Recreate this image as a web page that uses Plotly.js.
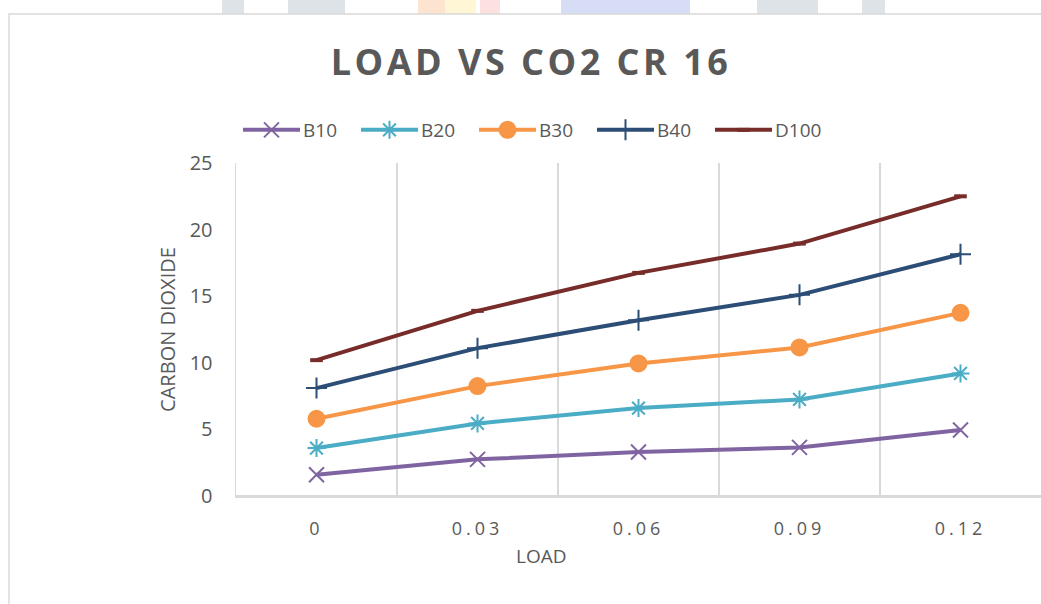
<!DOCTYPE html>
<html>
<head>
<meta charset="utf-8">
<script src="https://cdn.plot.ly/plotly-3.0.1.min.js"></script>
<style>
  html, body { margin: 0; padding: 0; background: #ffffff; }
  #chart { width: 1041px; height: 604px; }
  .gtitle { letter-spacing: 3.5px; }
  .xtick text { letter-spacing: 4px; }
</style>
</head>
<body>
<div id="chart"></div>
<script>
// ---- data ----
const loads = ["0", "0.03", "0.06", "0.09", "0.12"];
const seriesNames = ["B10", "B20", "B30", "B40", "D100"];
const b10 = [1.6, 2.75, 3.3, 3.65, 4.95];
const b20 = [3.6, 5.45, 6.6, 7.25, 9.2];
const b30 = [5.8, 8.25, 9.95, 11.15, 13.75];
const b40 = [8.1, 11.1, 13.2, 15.1, 18.15];
const d100 = [10.2, 13.9, 16.75, 18.95, 22.5];
const yTicks = [0, 5, 10, 15, 20, 25];

// ---- styling ----
const colors = ["#8064A2", "#4BACC6", "#F79646", "#2C4D75", "#772C2A"];
const symbols = ["x-thin-open", "asterisk-open", "circle", "cross-thin-open", "line-ew-open"];
const msizes = [15, 15, 16, 15, 9];
const values = [b10, b20, b30, b40, d100];
const FONT = "'Open Sans', 'Noto Sans', 'DejaVu Sans', sans-serif";
const TXT = "#595959";

const traces = values.map((v, i) => ({
  type: "scatter",
  mode: "lines+markers",
  name: seriesNames[i],
  x: loads,
  y: v,
  line: { color: colors[i], width: 4 },
  marker: {
    symbol: symbols[i],
    size: msizes[i],
    color: colors[i],
    line: { color: colors[i], width: i === 4 ? 4 : 2 }
  },
  cliponaxis: false
}));

// pixel -> paper helpers (plot area: x 236..1041, y 163..496)
const L = 236, R = 1041, T = 163, B = 496;
const px = x => (x - L) / (R - L);
const py = y => (B - y) / (B - T);

// decorative faint watermark at the very top and chart frame
const wm = [
  { x0: 222, x1: 244, c: "#dde3e6" },
  { x0: 288, x1: 345, c: "#dde3e6" },
  { x0: 418, x1: 470, c: "#fde4d0" },
  { x0: 445, x1: 476, c: "#fef6d4" },
  { x0: 480, x1: 500, c: "#fde0e0" },
  { x0: 561, x1: 690, c: "#d7ddf5" },
  { x0: 757, x1: 818, c: "#dde3e6" },
  { x0: 862, x1: 885, c: "#dde3e6" }
];
const shapes = wm.map(s => ({
  type: "rect", xref: "paper", yref: "paper", layer: "below",
  x0: px(s.x0), x1: px(s.x1), y0: py(14), y1: py(0),
  fillcolor: s.c, line: { width: 0 }
}));
shapes.push({
  type: "path", xref: "paper", yref: "paper", layer: "below",
  path: `M ${px(9)} ${py(604)} L ${px(9)} ${py(14)} L ${px(1041)} ${py(14)}`,
  line: { color: "#d9d9d9", width: 1.5 }
});
// full-width category axis baseline
shapes.push({
  type: "line", xref: "paper", yref: "paper", layer: "above",
  x0: 0, x1: 1, y0: 0, y1: 0,
  line: { color: "#d9d9d9", width: 2 }
});

const layout = {
  width: 1041,
  height: 604,
  margin: { l: L, r: 1041 - R, t: T, b: 604 - B, pad: 0 },
  paper_bgcolor: "#ffffff",
  plot_bgcolor: "#ffffff",
  font: { family: FONT, color: TXT, size: 17 },
  title: {
    text: "<b>LOAD VS CO2 CR 16</b>",
    font: { family: FONT, size: 36, color: TXT },
    x: 531 / 1041, xanchor: "center", xref: "container",
    y: 1 - 62 / 604, yanchor: "middle", yref: "container"
  },
  showlegend: true,
  legend: {
    orientation: "h",
    x: px(243), xanchor: "left",
    y: py(130), yanchor: "middle",
    font: { family: FONT, size: 19, color: TXT },
    itemwidth: 50,
    entrywidth: 53,
    entrywidthmode: "pixels",
    bgcolor: "rgba(0,0,0,0)"
  },
  xaxis: {
    type: "category",
    range: [-0.5, 4.5],
    tickson: "boundaries",
    ticks: "",
    showgrid: true,
    gridcolor: "#d9d9d9",
    gridwidth: 1.5,
    showline: true,
    linecolor: "#d9d9d9",
    linewidth: 2,
    zeroline: false,
    tickfont: { family: FONT, size: 18, color: TXT },
    ticklabelstandoff: 15,
    fixedrange: true
  },
  yaxis: {
    range: [0, 25],
    tickvals: yTicks,
    ticktext: yTicks.map(String),
    showgrid: false,
    zeroline: false,
    showline: true,
    linecolor: "#d9d9d9",
    linewidth: 1.5,
    ticks: "",
    tickfont: { family: FONT, size: 20, color: TXT },
    ticklabelstandoff: 18,
    title: { text: "CARBON DIOXIDE", font: { family: FONT, size: 20, color: TXT }, standoff: 8 },
    fixedrange: true
  },
  annotations: [{
    text: "LOAD",
    xref: "paper", yref: "paper",
    x: px(541), y: py(556),
    xanchor: "center", yanchor: "middle",
    showarrow: false,
    font: { family: FONT, size: 19, color: TXT }
  }],
  shapes: shapes
};

Plotly.newPlot("chart", traces, layout, { displayModeBar: false, staticPlot: true }).then(gd => {
  // lengthen legend sample lines to look like the Excel legend
  gd.querySelectorAll(".legend .traces").forEach(tr => {
    tr.querySelectorAll(".legendlines path").forEach(p => p.setAttribute("d", "M0,0h57"));
    tr.querySelectorAll(".legendsymbols path").forEach(p => {
      p.setAttribute("transform", "translate(28.5,0)");
    });
  });
});
</script>
</body>
</html>
